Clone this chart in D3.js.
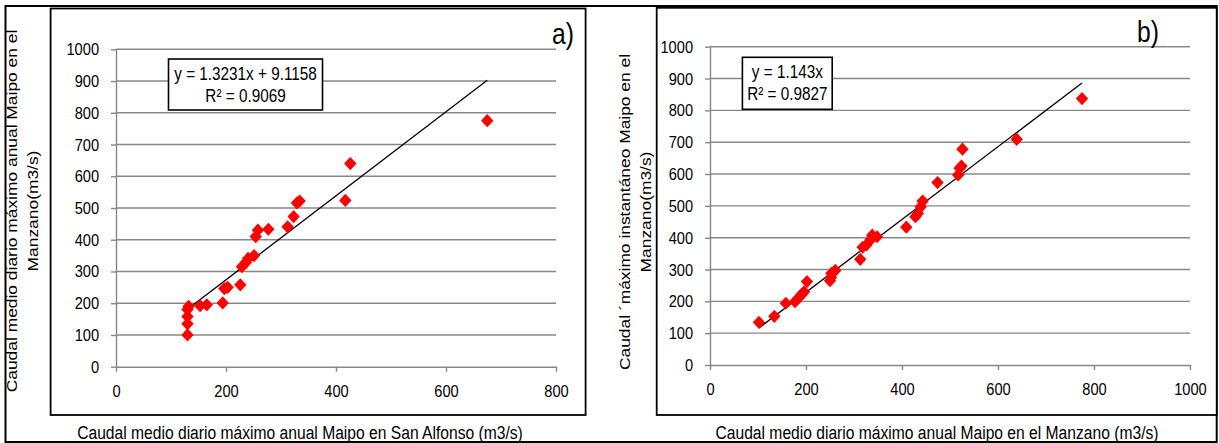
<!DOCTYPE html>
<html>
<head>
<meta charset="utf-8">
<script src="https://cdn.jsdelivr.net/npm/d3@7"></script>
<style>
  html, body { margin: 0; padding: 0; background: #fff; }
  svg { display: block; }
  text { font-family: "Liberation Sans", Arial, sans-serif; fill: #000; }
</style>
</head>
<body>
<svg id="fig" width="1219" height="443"></svg>
<script>
// a) Caudal medio diario máximo anual: San Alfonso (x) vs El Manzano (y), m3/s
const sanAlfonsoQ = [675, 426, 417, 334, 329, 323, 312, 277, 258, 254, 251, 240, 236, 229, 226, 203, 197, 194, 165, 153, 132, 130, 130, 130, 130];
const manzanoDailyA = [775, 640, 524, 522, 516, 473, 441, 433, 430, 410, 350, 341, 328, 315, 258, 250, 246, 201, 195, 192, 190, 180, 158, 135, 100];

// b) El Manzano: caudal medio diario máximo (x) vs caudal máximo instantáneo (y), m3/s
const manzanoDailyB = [775, 639, 526, 524, 520, 517, 474, 443, 439, 433, 428, 409, 348, 338, 334, 326, 318, 313, 261, 253, 252, 250, 202, 196, 190, 184, 177, 158, 134, 102];
const manzanoInst = [837, 709, 678, 625, 618, 597, 573, 515, 497, 476, 466, 433, 403, 408, 393, 377, 370, 332, 297, 288, 275, 265, 262, 230, 220, 210, 199, 194, 153, 134];

// Linear fits reported on each panel
const fitA = [1.3231, 9.1158];   // slope, intercept
const r2A = 0.9069;
const fitB = [1.143, 0];
const r2B = 0.9827;

// Tick values
const xTicksA = [0, 200, 400, 600, 800];
const xTicksB = [0, 200, 400, 600, 800, 1000];
const yTicks = [0, 100, 200, 300, 400, 500, 600, 700, 800, 900, 1000];

const svg = d3.select("#fig");
const GRID = "#878787";
const SQ = 0.85;   // horizontal condensing of the label face

// Diamond marker, slightly taller than wide
const diamond = {
  draw(ctx) {
    const w = 6.2, h = 6.6;
    ctx.moveTo(0, -h); ctx.lineTo(w, 0); ctx.lineTo(0, h); ctx.lineTo(-w, 0); ctx.closePath();
  }
};

// condensed text label
function label(parent, x, y, str, size, anchor) {
  return parent.append("text")
    .attr("transform", `translate(${x},${y}) scale(${SQ},1)`)
    .attr("font-size", size)
    .attr("text-anchor", anchor || "start")
    .text(str);
}

// Outer frame
svg.append("rect")
  .attr("x", 5.5).attr("y", 6).attr("width", 1211.2).attr("height", 436)
  .attr("fill", "none").attr("stroke", "#000").attr("stroke-width", 2);

function panel(cfg) {
  const g = svg.append("g");

  // panel box
  g.append("rect")
    .attr("x", cfg.box[0]).attr("y", cfg.box[1])
    .attr("width", cfg.box[2] - cfg.box[0]).attr("height", cfg.box[3] - cfg.box[1])
    .attr("fill", "#fff").attr("stroke", "#000").attr("stroke-width", 1.8);

  const x = d3.scaleLinear().domain(cfg.xDomain).range(cfg.xRange);
  const y = d3.scaleLinear().domain([0, 1000]).range(cfg.yRange);

  // horizontal gridlines
  g.append("g").selectAll("line").data(yTicks.filter(v => v > 0)).join("line")
    .attr("x1", x(cfg.xDomain[0])).attr("x2", x(cfg.xDomain[1]))
    .attr("y1", d => y(d)).attr("y2", d => y(d))
    .attr("stroke", GRID).attr("stroke-width", 1.4);

  const fmt = d3.format("d");
  // y axis
  const ya = g.append("g").attr("transform", `translate(${x(cfg.xDomain[0])},0)`)
    .call(d3.axisLeft(y).tickValues(yTicks).tickFormat(fmt).tickSize(5).tickSizeOuter(0).tickPadding(12));
  // x axis
  const xa = g.append("g").attr("transform", `translate(0,${y(0)})`)
    .call(d3.axisBottom(x).tickValues(cfg.xTicks).tickFormat(fmt).tickSize(5).tickSizeOuter(0));

  [ya, xa].forEach(a => {
    a.attr("font-family", null);
    a.select(".domain").attr("stroke", GRID).attr("stroke-width", 1.4);
    a.selectAll(".tick line").attr("stroke", GRID).attr("stroke-width", 1.4);
    a.selectAll(".tick text").attr("font-size", 17.2).attr("fill", "#000")
      .attr("transform", `scale(${SQ},1)`);
  });
  ya.selectAll(".tick text").attr("x", -17 / SQ);
  xa.selectAll(".tick text").attr("y", 24).attr("dy", "0.35em");

  // trend line over the observed x range
  const [lo, hi] = d3.extent(cfg.xs);
  const f = v => cfg.fit[0] * v + cfg.fit[1];
  g.append("line")
    .attr("x1", x(lo)).attr("y1", y(f(lo)))
    .attr("x2", x(hi)).attr("y2", y(f(hi)))
    .attr("stroke", "#000").attr("stroke-width", 1.3);

  // observations
  const sym = d3.symbol().type(diamond);
  g.append("g").selectAll("path").data(cfg.xs.map((v, i) => [v, cfg.ys[i]])).join("path")
    .attr("d", sym)
    .attr("transform", d => `translate(${x(d[0])},${y(d[1])})`)
    .attr("fill", "#ff0000");

  // equation box
  const eb = cfg.eqBox;
  g.append("rect")
    .attr("x", eb[0]).attr("y", eb[1]).attr("width", eb[2] - eb[0]).attr("height", eb[3] - eb[1])
    .attr("fill", "#fff").attr("stroke", "#000").attr("stroke-width", 1.6);
  const cx = (eb[0] + eb[2]) / 2;
  label(g, cx, eb[1] + 21, cfg.eqText, 18, "middle");
  label(g, cx, eb[1] + 42.5, cfg.r2Text, 18, "middle");

  // panel letter
  label(g, cfg.letterPos[0], cfg.letterPos[1], cfg.letter, 29);

  // x title
  label(g, cfg.xTitlePos[0], cfg.xTitlePos[1], cfg.xTitle, 18.4, "middle");

  // y title (two lines, rotated)
  cfg.yTitle.forEach((line, i) => {
    g.append("text").attr("font-size", 17.4)
      .attr("text-anchor", "middle")
      .attr("transform", `translate(${cfg.yTitleX[i]},${cfg.yTitleY}) scale(0.82,1) rotate(-90)`)
      .text(line);
  });
}

panel({
  box: [50.6, 8.5, 585.6, 415],
  xDomain: [0, 800], xRange: [116, 556], yRange: [366.7, 49.3],
  xTicks: xTicksA,
  xs: sanAlfonsoQ, ys: manzanoDailyA,
  fit: fitA,
  eqBox: [168.5, 59, 322.5, 110],
  eqText: `y = ${fitA[0]}x + ${fitA[1]}`,
  r2Text: `R² = ${r2A}`,
  letter: "a)", letterPos: [552, 43.5],
  xTitle: "Caudal medio diario máximo anual Maipo en San Alfonso (m3/s)", xTitlePos: [300, 438.5],
  yTitle: ["Caudal medio diario máximo anual Maipo en el", "Manzano(m3/s)"],
  yTitleX: [16.5, 37.5], yTitleY: 211
});

panel({
  box: [656.7, 7.8, 1216.7, 415],
  xDomain: [0, 1000], xRange: [710, 1190], yRange: [365, 46.7],
  xTicks: xTicksB,
  xs: manzanoDailyB, ys: manzanoInst,
  fit: fitB,
  eqBox: [742.4, 57.3, 832.2, 109.3],
  eqText: `y = ${fitB[0]}x`,
  r2Text: `R² = ${r2B}`,
  letter: "b)", letterPos: [1137, 42],
  xTitle: "Caudal medio diario máximo anual Maipo en el Manzano (m3/s)", xTitlePos: [937, 438.5],
  yTitle: ["Caudal ´máximo instantáneo Maipo en el", "Manzano(m3/s)"],
  yTitleX: [630, 651], yTitleY: 212
});
</script>
</body>
</html>
